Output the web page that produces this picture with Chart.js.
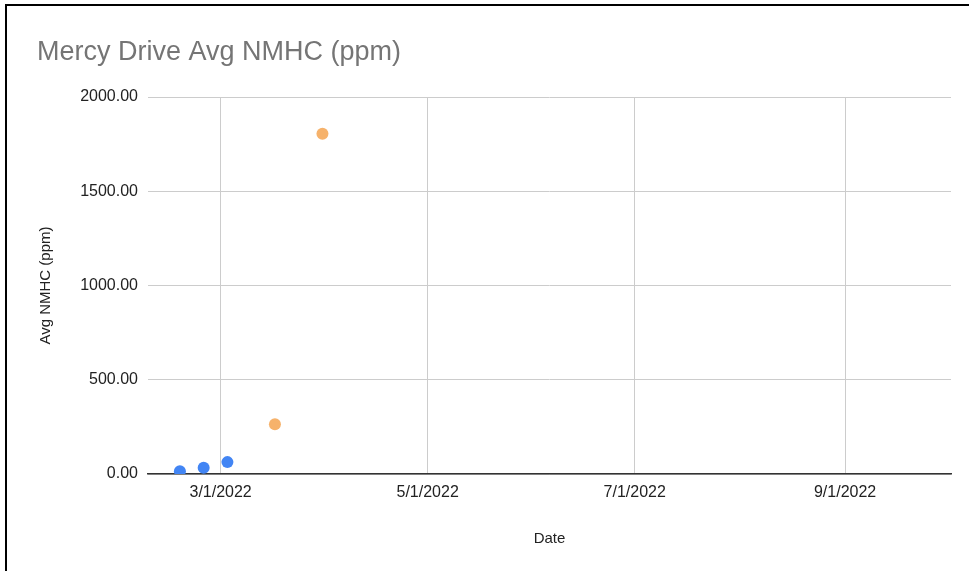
<!DOCTYPE html>
<html>
<head>
<meta charset="utf-8">
<script src="https://cdn.jsdelivr.net/npm/chart.js@4.4.1/dist/chart.umd.min.js"></script>
<style>
  html, body { margin: 0; padding: 0; background: #fff; }
  #wrap { position: relative; width: 969px; height: 571px; overflow: hidden; }
  #frame {
    position: absolute; left: 5px; top: 4px; width: 1000px; height: 600px;
    border-top: 2px solid #000; border-left: 2px solid #000; pointer-events: none;
  }
  canvas { position: absolute; left: 0; top: 0; }
</style>
</head>
<body>
<div id="wrap">
  <canvas id="chart" width="969" height="571"></canvas>
  <div id="frame"></div>
</div>
<script>
/* Dane wykresu */
var blueDates = ['2/17/2022', '2/24/2022', '3/3/2022'];
var blueValues = [15, 33, 63];
var orangeDates = ['3/17/2022', '3/31/2022'];
var orangeValues = [264, 1805];
var xTickLabels = ['3/1/2022', '5/1/2022', '7/1/2022', '9/1/2022'];
var yTickValues = [0, 500, 1000, 1500, 2000];

var FONT = "'Liberation Sans', Arial, sans-serif";

/* dni od 1/1/2022 */
var toDay = function (s) {
    var p = s.split('/');
    return (Date.UTC(+p[2], +p[0] - 1, +p[1]) - Date.UTC(2022, 0, 1)) / 86400000;
};

var toPoints = function (dates, values) {
    return dates.map(function (d, i) { return { x: toDay(d), y: values[i] }; });
};

var ctx = document.getElementById('chart');

var chart = new Chart(ctx, {
    type: 'scatter',
    data: {
        datasets: [
            {
                label: 'Avg NMHC (ppm)',
                data: toPoints(blueDates, blueValues),
                backgroundColor: '#4285F4',
                borderColor: '#4285F4',
                borderWidth: 0,
                pointRadius: 6
            },
            {
                label: 'Avg NMHC (ppm) ',
                data: toPoints(orangeDates, orangeValues),
                backgroundColor: '#F6B26B',
                borderColor: '#F6B26B',
                borderWidth: 0,
                pointRadius: 6
            }
        ]
    },
    options: {
        responsive: false,
        maintainAspectRatio: false,
        animation: false,
        layout: { padding: { left: 37, right: 18, top: 0, bottom: 0 } },
        plugins: {
            legend: { display: false },
            tooltip: { enabled: false },
            title: {
                display: true,
                text: 'Mercy Drive Avg NMHC (ppm)',
                align: 'start',
                color: '#757575',
                font: { family: FONT, size: 27, weight: 'normal', lineHeight: 1.2 },
                padding: { top: 36, bottom: 28.6 }
            }
        },
        scales: {
            x: {
                type: 'linear',
                min: toDay('2/7/2022') + 0.6,
                max: toDay('10/2/2022') + 0.2,
                afterBuildTicks: function (scale) {
                    scale.ticks = xTickLabels.map(function (s) { return { value: toDay(s) }; });
                },
                afterFit: function (scale) { scale.height = 97; },
                ticks: {
                    color: '#222',
                    padding: 9,
                    maxRotation: 0,
                    font: { family: FONT, size: 16 },
                    callback: function (value) {
                        var d = new Date(Date.UTC(2022, 0, 1) + value * 86400000);
                        return (d.getUTCMonth() + 1) + '/' + d.getUTCDate() + '/' + d.getUTCFullYear();
                    }
                },
                grid: { color: '#cccccc', drawTicks: false },
                border: { display: true, color: '#333333', width: 1.5 },
                title: {
                    display: true,
                    text: 'Date',
                    color: '#222',
                    font: { family: FONT, size: 15 },
                    padding: { top: 0, bottom: 23 }
                }
            },
            y: {
                min: 0,
                max: 2000,
                afterBuildTicks: function (scale) {
                    scale.ticks = yTickValues.map(function (v) { return { value: v }; });
                },
                afterFit: function (scale) { scale.width = 111; },
                ticks: {
                    color: '#222',
                    padding: 10,
                    font: { family: FONT, size: 16 },
                    callback: function (value) { return value.toFixed(2); }
                },
                grid: { color: '#cccccc', drawTicks: false },
                border: { display: false },
                title: {
                    display: true,
                    text: 'Avg NMHC (ppm)',
                    color: '#222',
                    font: { family: FONT, size: 15 },
                    padding: { top: 0, bottom: 0 }
                }
            }
        }
    }
});
</script>
</body>
</html>
